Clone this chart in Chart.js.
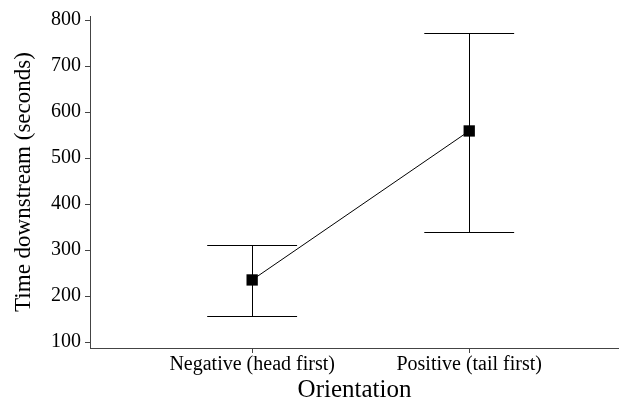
<!DOCTYPE html>
<html>
<head>
    <title>Time downstream by orientation</title>
    <script src="https://cdn.jsdelivr.net/npm/chart.js"></script>
    <style>
        html, body { margin: 0; padding: 0; background: #fff; overflow: hidden; }
        canvas { display: block; }
    </style>
</head>
<body>
    <canvas id="timeChart" width="619" height="400"></canvas>

    <script>
        const categories = ['Negative (head first)', 'Positive (tail first)'];
        const catPositions = [1, 2];
        const means = [235, 559];
        const lower = [157, 340];
        const upper = [311, 773];
        const yTicks = [100, 200, 300, 400, 500, 600, 700, 800];

        const serif = '"Liberation Serif", "Times New Roman", serif';
        const padLeft = 10;

        // draws the whiskers and caps through the chart scales
        const errorBars = {
            id: 'errorBars',
            afterDatasetsDraw(chart) {
                const { ctx, scales: { x, y } } = chart;
                const capHalf = 0.207;
                ctx.save();
                ctx.strokeStyle = '#000';
                ctx.lineWidth = 1;
                catPositions.forEach((pos, i) => {
                    const px = Math.round(x.getPixelForValue(pos)) + 0.5;
                    const left = x.getPixelForValue(pos - capHalf);
                    const right = x.getPixelForValue(pos + capHalf);
                    const top = Math.round(y.getPixelForValue(upper[i])) + 0.5;
                    const bot = Math.round(y.getPixelForValue(lower[i])) + 0.5;
                    ctx.beginPath();
                    ctx.moveTo(px, top);
                    ctx.lineTo(px, bot);
                    ctx.moveTo(left, top);
                    ctx.lineTo(right, top);
                    ctx.moveTo(left, bot);
                    ctx.lineTo(right, bot);
                    ctx.stroke();
                });
                ctx.restore();
            }
        };

        const ctx = document.getElementById('timeChart').getContext('2d');

        new Chart(ctx, {
            type: 'line',
            data: {
                datasets: [{
                    data: catPositions.map((pos, i) => ({ x: pos, y: means[i] })),
                    borderColor: '#000',
                    borderWidth: 1,
                    pointStyle: 'rect',
                    pointRadius: 8,
                    pointBackgroundColor: '#000',
                    pointBorderColor: '#000',
                    pointBorderWidth: 0
                }]
            },
            plugins: [errorBars],
            options: {
                responsive: false,
                animation: false,
                layout: {
                    autoPadding: false,
                    padding: { top: 16, right: 0, left: padLeft, bottom: 0 }
                },
                plugins: {
                    legend: { display: false },
                    tooltip: { enabled: false }
                },
                scales: {
                    x: {
                        type: 'linear',
                        min: 0.253,
                        max: 2.69,
                        afterBuildTicks: axis => {
                            axis.ticks = catPositions.map(v => ({ value: v }));
                        },
                        afterFit: axis => {
                            axis.height = 52;
                            axis.paddingLeft = 0;
                            axis.paddingRight = 0;
                        },
                        ticks: {
                            autoSkip: false,
                            maxRotation: 0,
                            padding: 0,
                            color: '#000',
                            font: { family: serif, size: 20, lineHeight: 1.2 },
                            callback: value => categories[catPositions.indexOf(value)]
                        },
                        grid: {
                            drawOnChartArea: false,
                            drawTicks: true,
                            tickLength: 5,
                            color: '#444'
                        },
                        border: { display: true, color: '#444', width: 1 },
                        title: {
                            display: true,
                            text: 'Orientation',
                            color: '#000',
                            padding: { top: 0, bottom: 0 },
                            font: { family: serif, size: 25, lineHeight: 0.75 }
                        }
                    },
                    y: {
                        min: 87,
                        max: 809,
                        afterBuildTicks: axis => {
                            axis.ticks = yTicks.map(v => ({ value: v }));
                        },
                        afterFit: axis => { axis.width = 90 - padLeft; },
                        ticks: {
                            padding: 4,
                            color: '#000',
                            font: { family: serif, size: 20 }
                        },
                        grid: {
                            drawOnChartArea: false,
                            drawTicks: true,
                            tickLength: 5,
                            color: '#444'
                        },
                        border: { display: true, color: '#444', width: 1 },
                        title: {
                            display: true,
                            text: 'Time downstream (seconds)',
                            color: '#000',
                            padding: { top: 0, bottom: 0 },
                            font: { family: serif, size: 23, lineHeight: 1.25 }
                        }
                    }
                }
            }
        });
    </script>
</body>
</html>
